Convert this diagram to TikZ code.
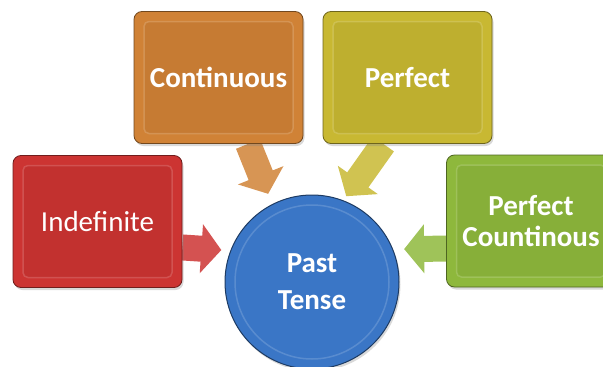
\documentclass[tikz,border=0pt]{standalone}
\usepackage{fontspec}
\setmainfont{Carlito}
\usetikzlibrary{arrows.meta,shadows,backgrounds,calc}

\definecolor{indefred}{RGB}{204,52,50}
\definecolor{contorange}{RGB}{208,130,54}
\definecolor{perfyellow}{RGB}{200,184,50}
\definecolor{pcgreen}{RGB}{142,184,60}
\definecolor{pastblue}{RGB}{58,118,198}

\tikzset{
	tensebox/.style={rectangle, rounded corners=8pt, minimum width=169pt, minimum height=132pt,
		fill=#1, draw=#1!55!black, line width=0.8pt, text=white, align=center,
		font=\fontsize{29}{32}\selectfont,
		drop shadow={opacity=0.3, shadow xshift=1.5pt, shadow yshift=-2.5pt},
		path picture={
			\fill[#1!95!black, rounded corners=5pt] ($(path picture bounding box.south west)+(10pt,10pt)$) rectangle ($(path picture bounding box.north east)+(-10pt,-10pt)$);
			\draw[#1!65!white, line width=1.5pt, opacity=0.45, rounded corners=5pt] ($(path picture bounding box.south west)+(10pt,10pt)$) rectangle ($(path picture bounding box.north east)+(-10pt,-10pt)$);
		}},
	pastcircle/.style={circle, minimum size=174pt, fill=pastblue, draw=pastblue!50!black,
		line width=1pt, text=white, align=center,
		font=\fontsize{29}{37}\selectfont\bfseries,
		drop shadow={opacity=0.3, shadow xshift=1.5pt, shadow yshift=-2.5pt},
		path picture={
			\draw[pastblue!60!white, line width=1.5pt, opacity=0.4] (path picture bounding box.center) circle (77pt);
		}},
	fatarrow/.style={draw=#1, line width=26pt, -{Triangle[width=48pt,length=20pt]}},
}

\begin{document}
\begin{tikzpicture}[x=1pt, y=-1pt]
			%%%%% START %%%%%
			\useasboundingbox (0,0) rectangle (603,367);
			
			\node[tensebox=indefred] (indef) at (97.5,221.5) {Indefinite};
			\node[tensebox=contorange, font=\fontsize{29}{32}\selectfont\bfseries] (cont) at (218.5,77.5) {Continuous};
			\node[tensebox=perfyellow, font=\fontsize{29}{32}\selectfont\bfseries] (perf) at (407.5,77.5) {Perfect};
			\node[tensebox=pcgreen, font=\fontsize{29}{31}\selectfont\bfseries] (perfcont) at (531,221) {Perfect\\Countinous};
			
			\node[pastcircle] (past) at (312,282) {Past\\Tense};
			
			%%%%% ARROWS %%%%%
			\begin{scope}[on background layer]
				\draw[fatarrow=indefred!85!white, shorten >=9pt] (indef.-17) -- (past.159);
				\draw[fatarrow=contorange!85!white, shorten >=11pt] (cont.-66) -- (past.117);
				\draw[fatarrow=perfyellow!85!white, shorten >=5pt] (perf.-110) -- (past.69);
				\draw[fatarrow=pcgreen!85!white, shorten >=11pt] (perfcont.198) -- (past.22);
			\end{scope}
			
			%%%%% END %%%%%
\end{tikzpicture}
\end{document}
